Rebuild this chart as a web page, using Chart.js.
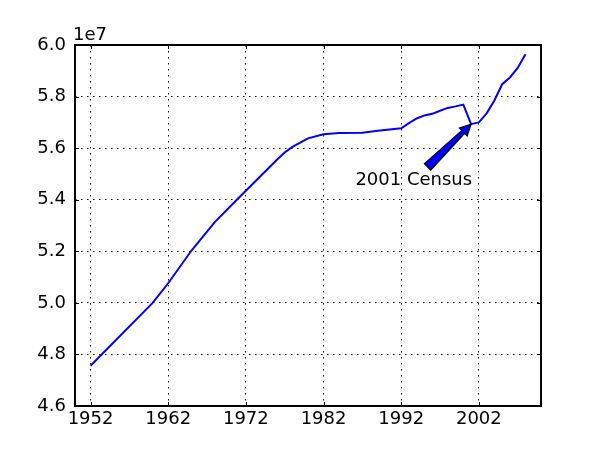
<!DOCTYPE html>
<html lang="en">
<head>
  <meta charset="UTF-8" />
  <title>Population</title>
  <style>
    body { margin: 0; background: #fff; }
    canvas { display: block; }
  </style>
</head>
<body>
  <canvas id="chart" width="600" height="450"></canvas>

  <script src="https://cdn.jsdelivr.net/npm/chart.js"></script>
  <script>
    // values, in units of 1e7
    const years = [1952, 1960, 1962, 1965, 1968, 1971, 1972, 1974, 1976, 1977, 1978, 1980, 1982, 1984, 1987, 1989,
                   1992, 1993, 1994, 1995, 1996, 1997, 1998, 1999, 2000, 2001, 2002, 2003, 2004,
                   2005, 2006, 2007, 2008];
    const population = [4.756, 5.000, 5.076, 5.203, 5.313, 5.405, 5.435, 5.495, 5.555, 5.583, 5.605, 5.638, 5.654, 5.659, 5.660, 5.667,
                        5.677, 5.697, 5.715, 5.727, 5.733, 5.745, 5.756, 5.762, 5.769, 5.693, 5.700, 5.735, 5.785,
                        5.848, 5.874, 5.911, 5.964].map(v => v * 1e7);
    const xTicks = [1952, 1962, 1972, 1982, 1992, 2002];
    const yTicks = [4.6, 4.8, 5.0, 5.2, 5.4, 5.6, 5.8, 6.0].map(v => v * 1e7);

    // annotation: arrow from text area to the 2001 census point
    const noteText = '2001 Census';
    const notePoint = [2001, 5.693e7];
    const noteTail = [1995.4, 5.527e7];
    const noteTextPos = [1986.1, 5.457e7];

    const FONT = '18px "DejaVu Sans"';

    const frame = {
      id: 'frame',
      afterDraw(chart) {
        const c = chart.ctx, a = chart.chartArea;
        const sx = chart.scales.x, sy = chart.scales.y;
        c.save();
        // inward tick marks
        c.strokeStyle = '#000';
        c.lineWidth = 1;
        c.beginPath();
        xTicks.forEach(t => {
          const px = Math.round(sx.getPixelForValue(t)) + 0.5;
          c.moveTo(px, a.bottom); c.lineTo(px, a.bottom - 4);
          c.moveTo(px, a.top); c.lineTo(px, a.top + 4);
        });
        yTicks.forEach(t => {
          const py = Math.round(sy.getPixelForValue(t)) + 0.5;
          c.moveTo(a.left, py); c.lineTo(a.left + 4, py);
          c.moveTo(a.right, py); c.lineTo(a.right - 4, py);
        });
        c.stroke();
        c.lineWidth = 2;
        c.strokeRect(a.left, a.top, a.right - a.left, a.bottom - a.top);
        // offset label
        c.fillStyle = '#000';
        c.font = FONT;
        c.textAlign = 'left';
        c.textBaseline = 'alphabetic';
        c.fillText('1e7', a.left - 2, a.top - 5);

        // annotation
        const hx = sx.getPixelForValue(notePoint[0]), hy = sy.getPixelForValue(notePoint[1]);
        const tx = sx.getPixelForValue(noteTail[0]), ty = sy.getPixelForValue(noteTail[1]);
        const dx = hx - tx, dy = hy - ty, len = Math.hypot(dx, dy);
        const ux = dx / len, uy = dy / len, nx = -uy, ny = ux;
        const headLen = 11, tailW = 4.5, shaftW = 2, headW = 5.5;
        const bx = hx - ux * headLen, by = hy - uy * headLen;
        c.beginPath();
        c.moveTo(tx + nx * tailW, ty + ny * tailW);
        c.lineTo(bx + nx * shaftW, by + ny * shaftW);
        c.lineTo(bx + nx * headW, by + ny * headW);
        c.lineTo(hx, hy);
        c.lineTo(bx - nx * headW, by - ny * headW);
        c.lineTo(bx - nx * shaftW, by - ny * shaftW);
        c.lineTo(tx - nx * tailW, ty - ny * tailW);
        c.closePath();
        c.fillStyle = '#0000ff';
        c.fill();
        c.lineWidth = 1.2;
        c.strokeStyle = '#000';
        c.stroke();

        c.fillStyle = '#000';
        c.fillText(noteText, sx.getPixelForValue(noteTextPos[0]), sy.getPixelForValue(noteTextPos[1]));
        c.restore();
      }
    };

    new Chart(document.getElementById('chart'), {
      type: 'line',
      data: {
        datasets: [{
          data: years.map((y, i) => ({x: y, y: population[i]})),
          borderColor: '#0000ff',
          borderWidth: 2,
          pointRadius: 0,
          fill: false,
          tension: 0
        }]
      },
      options: {
        responsive: false,
        animation: false,
        layout: { padding: { left: 0, top: 45, right: 59, bottom: 0 } },
        plugins: { legend: { display: false }, tooltip: { enabled: false } },
        scales: {
          x: {
            type: 'linear', min: 1950, max: 2010,
            afterBuildTicks: s => { s.ticks = xTicks.map(v => ({value: v})); },
            afterFit: s => { s.height = 44; },
            grid: { color: '#000', lineWidth: 1, drawTicks: false },
            border: { display: false, dash: [1.5, 4.5] },
            ticks: { color: '#000', font: { family: 'DejaVu Sans', size: 18 }, padding: 3,
                     maxRotation: 0, autoSkip: false, callback: v => String(v) }
          },
          y: {
            min: 4.6e7, max: 6.0e7,
            afterBuildTicks: s => { s.ticks = yTicks.map(v => ({value: v})); },
            afterFit: s => { s.width = 75; },
            grid: { color: '#000', lineWidth: 1, drawTicks: false },
            border: { display: false, dash: [1.5, 4.5] },
            ticks: { color: '#000', font: { family: 'DejaVu Sans', size: 18 }, padding: 9,
                     callback: v => (v / 1e7).toFixed(1) }
          }
        }
      },
      plugins: [frame]
    });
  </script>
</body>
</html>
